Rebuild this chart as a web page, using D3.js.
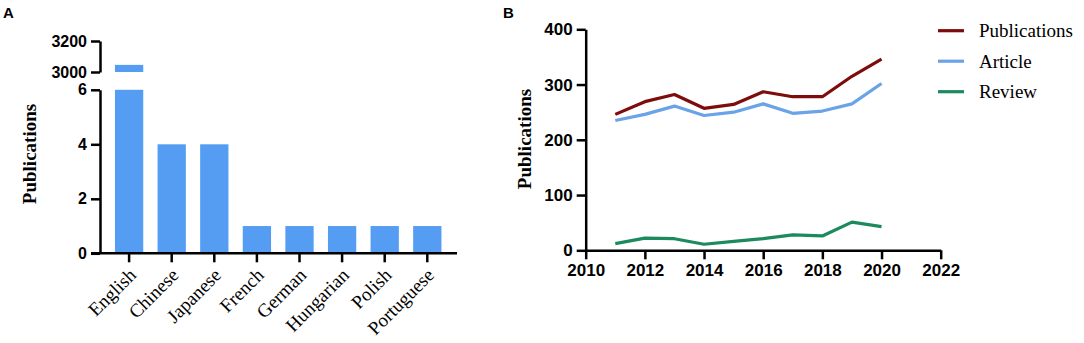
<!DOCTYPE html>
<html>
<head>
<meta charset="utf-8">
<script src="https://cdn.jsdelivr.net/npm/d3@7"></script>
<style>
  body { margin: 0; background: #fff; }
  svg { display: block; }
  .tick text { font-family: "Liberation Sans", Arial, sans-serif; font-weight: bold; fill: #000; }
</style>
</head>
<body>
<svg id="chart" width="1084" height="343"></svg>
<script>
// panel A: publication language
var languages = ["English", "Chinese", "Japanese", "French", "German", "Hungarian", "Polish", "Portuguese"];
var langCounts = [3046, 4, 4, 1, 1, 1, 1, 1];
var lowTicks = [0, 2, 4, 6];
var highTicks = [3000, 3200];

// panel B: publications per year
var years = [2011, 2012, 2013, 2014, 2015, 2016, 2017, 2018, 2019, 2020];
var pubTotal = [246, 269, 282, 257, 264, 287, 278, 278, 315, 346];
var pubArticle = [235, 246, 261, 244, 250, 265, 248, 252, 265, 302];
var pubReview = [12, 22, 21, 11, 16, 21, 28, 26, 51, 43];
var yearTicks = [2010, 2012, 2014, 2016, 2018, 2020, 2022];
var countTicks = [0, 100, 200, 300, 400];

var seriesNames = ["Publications", "Article", "Review"];
var seriesColors = ["#7d0c0c", "#6aa3e6", "#1b8a5c"];

var svg = d3.select("#chart");
var serif = "'Liberation Serif', 'Times New Roman', serif";
var sans = "'Liberation Sans', Arial, sans-serif";
var intFormat = d3.format("d");

function styleAxis(g, size)
{
	g.selectAll("path.domain").attr("stroke", "#000").attr("stroke-width", 2.5);
	g.selectAll(".tick line").attr("stroke", "#000").attr("stroke-width", 2.5);
	g.selectAll(".tick text").style("font-size", size + "px");
}

// ---------- panel A ----------
var ax = 100;
var x = d3.scaleBand().domain(languages).range([107.8, 448.6]).paddingInner(0.336).paddingOuter(0.168);
var yLow = d3.scaleLinear().domain([0, 6]).range([253.3, 89.8]);
var yHigh = d3.scaleLinear().domain([3000, 3200]).range([72, 41]);

var barColor = "#559cf3";
var gA = svg.append("g");

gA.selectAll("rect.low").data(langCounts).enter()
	.append("rect")
		.attr("class", "low")
		.attr("x", function(d, i) { return x(languages[i]); })
		.attr("width", x.bandwidth())
		.attr("y", function(d) { return yLow(Math.min(d, 6)); })
		.attr("height", function(d) { return yLow(0) - yLow(Math.min(d, 6)); })
		.attr("fill", barColor);

gA.selectAll("rect.high").data(langCounts.filter(function(d) { return d > 3000; })).enter()
	.append("rect")
		.attr("class", "high")
		.attr("x", function(d) { return x(languages[langCounts.indexOf(d)]); })
		.attr("width", x.bandwidth())
		.attr("y", function(d) { return yHigh(d); })
		.attr("height", function(d) { return yHigh(3000) - yHigh(d); })
		.attr("fill", barColor);

var lowAxis = gA.append("g")
	.attr("transform", "translate(" + ax + ",0)")
	.call(d3.axisLeft(yLow).tickValues(lowTicks).tickFormat(intFormat).tickSize(9).tickSizeOuter(0).tickPadding(4));
styleAxis(lowAxis, 16);

var highAxis = gA.append("g")
	.attr("transform", "translate(" + ax + ",0)")
	.call(d3.axisLeft(yHigh).tickValues(highTicks).tickFormat(intFormat).tickSize(9).tickSizeOuter(0).tickPadding(4));
styleAxis(highAxis, 16);

var xAxisA = gA.append("g")
	.attr("transform", "translate(0," + yLow(0) + ")")
	.call(d3.axisBottom(x).tickSize(9).tickSizeOuter(0));
xAxisA.select("path.domain").attr("d", "M" + (ax - 9) + ",0H457");
styleAxis(xAxisA, 19);
xAxisA.selectAll(".tick text")
	.style("font-family", serif)
	.style("font-weight", "normal")
	.attr("text-anchor", "end")
	.attr("y", 0)
	.attr("dy", 0)
	.attr("transform", "translate(8,23) rotate(-45)");

gA.append("text")
	.attr("transform", "translate(36,154) rotate(-90)")
	.attr("text-anchor", "middle")
	.style("font-family", serif)
	.style("font-weight", "bold")
	.style("font-size", "19px")
	.text("Publications");

svg.append("text").attr("x", 3).attr("y", 18)
	.style("font-family", sans).style("font-weight", "bold").style("font-size", "15px").text("A");

// ---------- panel B ----------
var xB = d3.scaleLinear().domain([2010, 2022]).range([585.7, 940.7]);
var yB = d3.scaleLinear().domain([0, 400]).range([250.3, 29.3]);
var gB = svg.append("g");

var xAxisB = gB.append("g")
	.attr("transform", "translate(0," + yB(0) + ")")
	.call(d3.axisBottom(xB).tickValues(yearTicks).tickFormat(intFormat).tickSize(9).tickSizeOuter(0).tickPadding(5));
styleAxis(xAxisB, 17);

var yAxisB = gB.append("g")
	.attr("transform", "translate(" + xB(2010) + ",0)")
	.call(d3.axisLeft(yB).tickValues(countTicks).tickFormat(intFormat).tickSize(9).tickSizeOuter(0).tickPadding(4));
styleAxis(yAxisB, 17);

var line = d3.line()
	.x(function(d, i) { return xB(years[i]); })
	.y(function(d) { return yB(d); });

var seriesData = [pubTotal, pubArticle, pubReview];
gB.selectAll("path.series").data(seriesData).enter()
	.append("path")
		.attr("class", "series")
		.attr("d", line)
		.attr("fill", "none")
		.attr("stroke", function(d, i) { return seriesColors[i]; })
		.attr("stroke-width", 3.2)
		.attr("stroke-linejoin", "round");

gB.append("text")
	.attr("transform", "translate(531,139) rotate(-90)")
	.attr("text-anchor", "middle")
	.style("font-family", serif)
	.style("font-weight", "bold")
	.style("font-size", "19px")
	.text("Publications");

var legend = gB.selectAll("g.legend").data(seriesNames).enter()
	.append("g")
		.attr("class", "legend")
		.attr("transform", function(d, i) { return "translate(938," + (30.7 + i * 30.5) + ")"; });
legend.append("line")
	.attr("x1", 0).attr("x2", 26)
	.attr("stroke", function(d, i) { return seriesColors[i]; })
	.attr("stroke-width", 3.2);
legend.append("text")
	.attr("x", 41).attr("dy", "0.35em")
	.style("font-family", serif)
	.style("font-size", "19px")
	.text(function(d) { return d; });

svg.append("text").attr("x", 503).attr("y", 18)
	.style("font-family", sans).style("font-weight", "bold").style("font-size", "15px").text("B");
</script>
</body>
</html>
